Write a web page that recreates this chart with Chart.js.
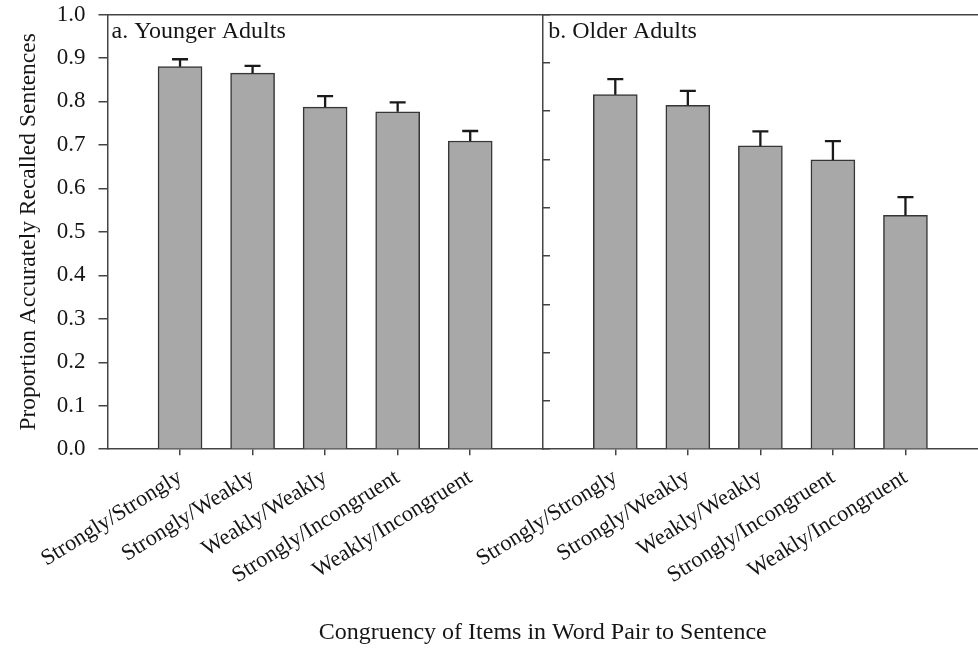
<!DOCTYPE html>
<html>
<head>
<meta charset="utf-8">
<script src="https://cdn.jsdelivr.net/npm/chart.js@4/dist/chart.umd.min.js"></script>
<style>
  html, body { margin: 0; padding: 0; background: #fff; }
  canvas { display: block; }
</style>
</head>
<body>
<canvas id="recall" width="978" height="651"></canvas>
<script>
// Word-pair congruency conditions (same order in both panels)
const categories = ['Strongly/Strongly', 'Strongly/Weakly', 'Weakly/Weakly', 'Strongly/Incongruent', 'Weakly/Incongruent'];

// Panel a: younger adults, mean proportion and SE
const youngerMeans  = [0.880, 0.865, 0.787, 0.776, 0.709];
const youngerErrors = [0.017, 0.017, 0.025, 0.022, 0.023];

// Panel b: older adults, mean proportion and SE
const olderMeans  = [0.734, 0.712, 0.628, 0.599, 0.484];
const olderErrors = [0.032, 0.030, 0.030, 0.039, 0.038];

// Axis tick values
const proportionTicks = [0.0, 0.1, 0.2, 0.3, 0.4, 0.5, 0.6, 0.7, 0.8, 0.9, 1.0];
const olderAxisTicks  = [0.0, 0.1, 0.2, 0.3, 0.4, 0.5, 0.6, 0.7, 0.8, 0.9];

const panelTitles = ['a. Younger Adults', 'b. Older Adults'];
const yTitle = 'Proportion Accurately Recalled Sentences';
const xTitle = 'Congruency of Items in Word Pair to Sentence';

const SERIF = "'Liberation Serif', 'Times New Roman', serif";
const INK = '#151515';
const AXIS = '#444';

const toPoints = vals => vals.map((v, i) => ({ x: i, y: v }));
const categoryTicks = scale => { scale.ticks = categories.map((_, i) => ({ value: i })); };

// Upward-only error bars with a short cap
const errorBars = {
  id: 'errorBars',
  afterDatasetsDraw(chart) {
    const ctx = chart.ctx;
    ctx.save();
    ctx.strokeStyle = '#1a1a1a';
    ctx.lineWidth = 2.3;
    chart.data.datasets.forEach((ds, di) => {
      const meta = chart.getDatasetMeta(di);
      const yScale = chart.scales[ds.yAxisID];
      meta.data.forEach((bar, i) => {
        const top = yScale.getPixelForValue(ds.data[i].y + ds.errors[i]);
        ctx.beginPath();
        ctx.moveTo(bar.x, bar.y);
        ctx.lineTo(bar.x, top);
        ctx.moveTo(bar.x - 8, top);
        ctx.lineTo(bar.x + 8, top);
        ctx.stroke();
      });
    });
    ctx.restore();
  }
};

// Panel headings in the upper-left corner of each panel
const panelLabels = {
  id: 'panelLabels',
  afterDraw(chart) {
    const ctx = chart.ctx;
    const top = chart.chartArea.top;
    ctx.save();
    ctx.font = '24px ' + SERIF;
    ctx.fillStyle = INK;
    ctx.textBaseline = 'alphabetic';
    ctx.textAlign = 'left';
    ctx.fillText(panelTitles[0], chart.scales.xA.left + 4, top + 23);
    ctx.fillText(panelTitles[1], chart.scales.xB.left + 5.5, top + 23);
    ctx.restore();
  }
};

const barStyle = {
  backgroundColor: '#a8a8a8',
  borderColor: '#363636',
  borderWidth: 1.5,
  borderSkipped: 'bottom',
  barThickness: 44,
  grouped: false
};

const xAxis = {
  type: 'linear',
  position: 'bottom',
  stack: 'panels',
  stackWeight: 1,
  offset: false,
  min: -1,
  max: 5,
  afterBuildTicks: categoryTicks,
  afterFit: s => { s.height = 169; s.paddingLeft = 0; s.paddingRight = 0; },
  grid: { offset: false, drawOnChartArea: false, tickLength: 6, color: AXIS, lineWidth: 1.5 },
  border: { display: true, color: AXIS, width: 1.5 },
  ticks: {
    autoSkip: false,
    minRotation: 32,
    maxRotation: 32,
    padding: 9,
    color: INK,
    font: { family: SERIF, size: 22.5 },
    callback: v => categories[v]
  }
};

new Chart(document.getElementById('recall'), {
  type: 'bar',
  data: {
    datasets: [
      Object.assign({ label: 'Younger Adults', data: toPoints(youngerMeans), errors: youngerErrors, xAxisID: 'xA', yAxisID: 'yA' }, barStyle),
      Object.assign({ label: 'Older Adults', data: toPoints(olderMeans), errors: olderErrors, xAxisID: 'xB', yAxisID: 'yB' }, barStyle)
    ]
  },
  options: {
    responsive: false,
    animation: false,
    layout: { padding: { top: 14.5, right: 0, bottom: 0, left: 0 } },
    plugins: {
      legend: { display: false },
      tooltip: { enabled: false },
      title: {
        display: true,
        position: 'bottom',
        fullSize: false,
        text: xTitle,
        color: INK,
        font: { family: SERIF, size: 24, weight: 'normal' },
        padding: { top: 0, bottom: 4 }
      }
    },
    scales: {
      xA: Object.assign({}, xAxis),
      xB: Object.assign({}, xAxis),
      xTop: {
        type: 'linear',
        position: 'top',
        min: 0,
        max: 1,
        afterFit: s => { s.height = 0; s.paddingLeft = 0; s.paddingRight = 0; },
        ticks: { display: false },
        grid: { drawOnChartArea: false, drawTicks: false },
        border: { display: true, color: AXIS, width: 1.5 }
      },
      yA: {
        type: 'linear',
        position: 'left',
        min: 0,
        max: 1,
        afterBuildTicks: s => { s.ticks = proportionTicks.map(v => ({ value: v })); },
        afterFit: s => { s.width = 107.5; s.paddingTop = 0; s.paddingBottom = 0; },
        grid: { drawOnChartArea: false, tickLength: 9, color: AXIS, lineWidth: 1.5 },
        border: { display: true, color: AXIS, width: 1.5 },
        ticks: {
          padding: 13,
          color: INK,
          font: { family: SERIF, size: 23 },
          callback: v => v.toFixed(1)
        },
        title: {
          display: true,
          text: yTitle,
          color: INK,
          font: { family: SERIF, size: 23.5 },
          padding: { top: 15, bottom: 0 }
        }
      },
      yB: {
        type: 'linear',
        position: { xB: -1 },
        min: 0,
        max: 0.9,
        afterBuildTicks: s => { s.ticks = olderAxisTicks.map(v => ({ value: v })); },
        afterFit: s => { s.paddingTop = 0; s.paddingBottom = 0; },
        grid: { drawOnChartArea: false, tickLength: -8, color: AXIS, lineWidth: 1.5 },
        border: { display: true, color: AXIS, width: 1.5 },
        ticks: { display: false }
      }
    }
  },
  plugins: [errorBars, panelLabels]
});
</script>
</body>
</html>
